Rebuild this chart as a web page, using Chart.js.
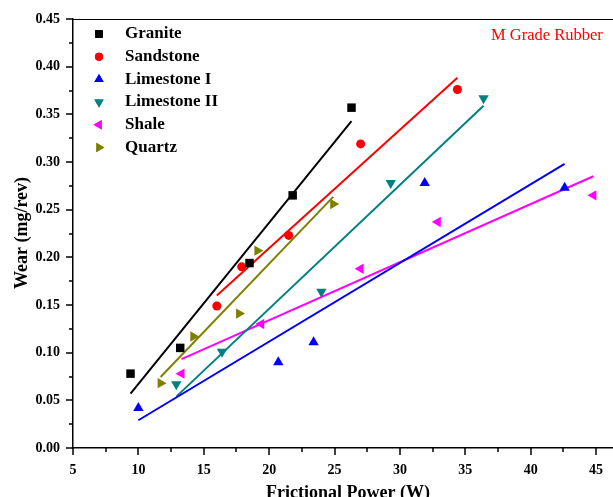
<!DOCTYPE html>
<html>
<head>
<meta charset="utf-8">
<script src="https://cdn.jsdelivr.net/npm/chart.js@4/dist/chart.umd.min.js"></script>
<style>
  body { margin: 0; background: #fff; }
  #wrap { width: 613px; height: 497px; }
</style>
</head>
<body>
<div id="wrap"><canvas id="wearChart" width="613" height="497"></canvas></div>
<script>
// values: frictional power (W) -> wear (mg/rev), M grade rubber
const granitePower   = [9.4, 13.2, 18.5, 21.8, 26.3];
const graniteWear    = [0.078, 0.105, 0.194, 0.265, 0.357];
const sandstonePower = [16.0, 17.9, 21.5, 27.0, 34.4];
const sandstoneWear  = [0.149, 0.190, 0.223, 0.319, 0.376];
const lime1Power     = [10.0, 20.7, 23.4, 31.9, 42.6];
const lime1Wear      = [0.042, 0.090, 0.111, 0.278, 0.273];
const lime2Power     = [12.9, 16.4, 24.0, 29.3, 36.4];
const lime2Wear      = [0.067, 0.101, 0.164, 0.278, 0.367];
const shalePower     = [13.3, 19.4, 27.0, 32.9, 44.8];
const shaleWear      = [0.078, 0.130, 0.188, 0.237, 0.265];
const quartzPower    = [11.7, 14.2, 17.7, 19.1, 24.9];
const quartzWear     = [0.068, 0.117, 0.141, 0.207, 0.256];

const seriesNames = ['Granite', 'Sandstone', 'Limestone I', 'Limestone II', 'Shale', 'Quartz'];
const xTickLabels = [5, 10, 15, 20, 25, 30, 35, 40, 45];
const yTickLabels = ['0.00', '0.05', '0.10', '0.15', '0.20', '0.25', '0.30', '0.35', '0.40', '0.45'];

const seriesPower = [granitePower, sandstonePower, lime1Power, lime2Power, shalePower, quartzPower];
const seriesWear  = [graniteWear, sandstoneWear, lime1Wear, lime2Wear, shaleWear, quartzWear];

const styles = [
  {color: '#000000', pointStyle: 'rect',     rotation: 0,   radius: 6},
  {color: '#ff0000', pointStyle: 'circle',   rotation: 0,   radius: 4.5},
  {color: '#0000ff', pointStyle: 'triangle', rotation: 0,   radius: 6},
  {color: '#008080', pointStyle: 'triangle', rotation: 180, radius: 6},
  {color: '#ff00ff', pointStyle: 'triangle', rotation: -90, radius: 6},
  {color: '#808000', pointStyle: 'triangle', rotation: 90,  radius: 6},
];

const SERIF = '"Liberation Serif", "Times New Roman", serif';

// least squares line over the data range
function fitLine(xs, ys) {
  const n = xs.length;
  const mx = xs.reduce((a, b) => a + b, 0) / n;
  const my = ys.reduce((a, b) => a + b, 0) / n;
  let sxy = 0, sxx = 0;
  for (let i = 0; i < n; i++) {
    sxy += (xs[i] - mx) * (ys[i] - my);
    sxx += (xs[i] - mx) * (xs[i] - mx);
  }
  const b = sxy / sxx, a = my - b * mx;
  const x0 = Math.min(...xs), x1 = Math.max(...xs);
  return [{x: x0, y: a + b * x0}, {x: x1, y: a + b * x1}];
}

const pointSets = seriesNames.map((name, i) => ({
  label: name,
  data: seriesPower[i].map((p, j) => ({x: p, y: seriesWear[i][j]})),
  showLine: false,
  pointStyle: styles[i].pointStyle,
  pointRotation: styles[i].rotation,
  pointRadius: styles[i].radius,
  pointHoverRadius: styles[i].radius,
  backgroundColor: styles[i].color,
  borderColor: styles[i].color,
  borderWidth: 0,
}));

const fitSets = seriesNames.map((name, i) => ({
  label: name + ' fit',
  data: fitLine(seriesPower[i], seriesWear[i]),
  showLine: true,
  pointRadius: 0,
  borderColor: styles[i].color,
  borderWidth: 2,
  fill: false,
}));

// frame, tick marks, axis titles, legend and note
const decor = {
  id: 'decor',
  afterDraw(chart) {
    const {ctx, chartArea: a, scales: {x, y}} = chart;
    ctx.save();
    ctx.strokeStyle = '#000';
    ctx.lineWidth = 1;
    ctx.beginPath();
    ctx.moveTo(a.left, a.top + 0.5);
    ctx.lineTo(a.right, a.top + 0.5);
    ctx.stroke();

    ctx.lineWidth = 1.5;
    x.ticks.forEach(t => {
      const px = Math.round(x.getPixelForValue(t.value));
      const major = xTickLabels.includes(t.value);
      ctx.beginPath();
      ctx.moveTo(px, a.bottom);
      ctx.lineTo(px, a.bottom + (major ? 7 : 4));
      ctx.stroke();
    });
    y.ticks.forEach(t => {
      const py = Math.round(y.getPixelForValue(t.value));
      const major = Math.round(t.value * 1000) % 50 === 0;
      ctx.beginPath();
      ctx.moveTo(a.left, py);
      ctx.lineTo(a.left - (major ? 7 : 4), py);
      ctx.stroke();
    });

    ctx.fillStyle = '#000';
    ctx.font = 'bold 18px ' + SERIF;
    ctx.textAlign = 'center';
    ctx.textBaseline = 'alphabetic';
    ctx.fillText('Frictional Power (W)', 348, 498);

    ctx.save();
    ctx.translate(27, 233);
    ctx.rotate(-Math.PI / 2);
    ctx.fillText('Wear (mg/rev)', 0, 0);
    ctx.restore();

    // legend
    ctx.textAlign = 'left';
    ctx.textBaseline = 'middle';
    ctx.font = 'bold 17px ' + SERIF;
    seriesNames.forEach((name, i) => {
      const ly = 34 + i * 22.7;
      ctx.fillStyle = styles[i].color;
      Chart.helpers.drawPoint(ctx, {
        pointStyle: styles[i].pointStyle,
        rotation: styles[i].rotation,
        radius: styles[i].radius * 0.9,
        borderWidth: 0,
      }, 99, ly);
      ctx.fill();
      ctx.fillStyle = '#000';
      ctx.fillText(name, 125, ly);
    });

    ctx.fillStyle = '#ff0000';
    ctx.font = '16.5px ' + SERIF;
    ctx.fillText('M Grade Rubber', 491, 36);
    ctx.restore();
  }
};

new Chart(document.getElementById('wearChart'), {
  type: 'scatter',
  data: {datasets: [...pointSets, ...fitSets]},
  options: {
    responsive: false,
    devicePixelRatio: 1,
    animation: false,
    layout: {autoPadding: false, padding: {top: 19, right: 0, left: 0, bottom: 0}},
    plugins: {legend: {display: false}, tooltip: {enabled: false}},
    scales: {
      x: {
        type: 'linear',
        min: 5,
        max: 46.3,
        afterFit: s => { s.height = 49; s.paddingLeft = 0; s.paddingRight = 0; },
        border: {display: true, color: '#000', width: 1.5},
        grid: {display: false, drawTicks: false},
        ticks: {
          stepSize: 2.5,
          includeBounds: false,
          autoSkip: false,
          maxRotation: 0,
          padding: 14,
          color: '#000',
          font: {family: SERIF, size: 14, weight: 'bold'},
          callback: v => xTickLabels.includes(v) ? String(v) : '',
        },
      },
      y: {
        type: 'linear',
        min: 0,
        max: 0.45,
        afterFit: s => { s.width = 73; s.paddingTop = 0; s.paddingBottom = 0; },
        border: {display: true, color: '#000', width: 1.5},
        grid: {display: false, drawTicks: false},
        ticks: {
          stepSize: 0.025,
          autoSkip: false,
          padding: 13,
          color: '#000',
          font: {family: SERIF, size: 14, weight: 'bold'},
          callback: v => {
            const k = Math.round(v * 1000);
            return k % 50 === 0 ? yTickLabels[k / 50] : '';
          },
        },
      },
    },
  },
  plugins: [decor],
});
</script>
</body>
</html>
